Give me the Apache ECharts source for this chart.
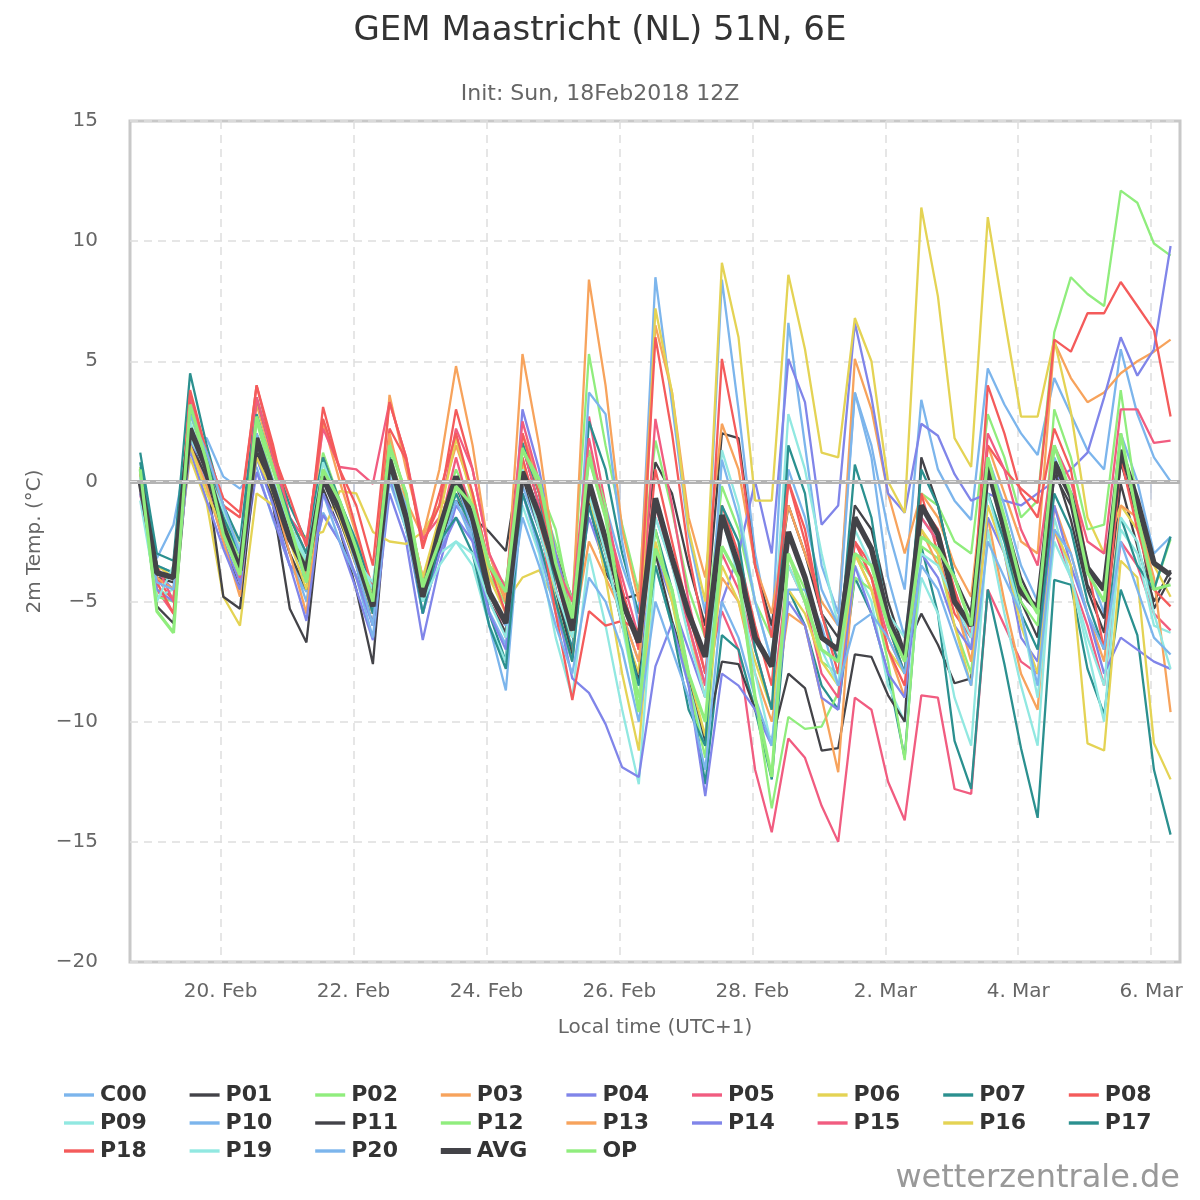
<!DOCTYPE html>
<html>
<head>
<meta charset="utf-8">
<script src="https://cdn.jsdelivr.net/npm/echarts@6/dist/echarts.min.js"></script>
<style>html,body{margin:0;padding:0;background:#fff}#chart{width:1200px;height:1200px}</style>
</head>
<body>
<div id="chart"></div>
<script>
// Forecast steps: every 6 h from 18 Feb 18Z (19:00 local), x = hours since 18 Feb 00:00 local
const startHour = 19;
const stepHours = 6;
const tickHours = [48, 96, 144, 192, 240, 288, 336, 384];
const tickLabels = ['20. Feb', '22. Feb', '24. Feb', '26. Feb', '28. Feb', '2. Mar', '4. Mar', '6. Mar'];
const yTicks = [-20, -15, -10, -5, 0, 5, 10, 15];

const C00 = [0.3,-3.2,-1.8,1.9,1.8,0.2,-0.3,0.6,-1.6,-3.5,
  -4.6,-1.3,-2.5,-3.9,-5.5,0.2,-2.0,-5.0,-2.6,-0.5,
  -2.3,-5.4,-6.8,-0.2,-2.0,-4.0,-5.5,1.0,-1.0,-3.5,
  -5.5,8.5,3.2,-2.2,-5.5,8.4,3.0,-3.0,-6.5,6.6,
  1.5,-3.5,-5.5,3.7,1.5,-2.0,-4.5,3.4,0.5,-0.8,
  -1.6,4.7,3.2,2.0,1.1,4.3,2.8,1.3,0.5,5.5,
  2.8,1.0,0.0];
const P01 = [0.0,-5.2,-5.9,1.8,0.0,-2.5,-4.5,1.5,-1.0,-5.3,
  -6.7,-0.3,-2.0,-4.5,-7.6,0.5,-2.0,-4.5,-2.5,-0.8,
  -1.5,-2.1,-2.9,1.5,-1.0,-3.0,-4.9,-0.9,-3.8,-4.9,
  -4.7,0.8,-0.5,-3.5,-6.0,2.0,1.8,-3.5,-6.0,-1.0,
  -3.0,-5.5,-6.5,-1.0,-2.0,-5.0,-7.1,-5.5,-6.8,-8.4,
  -8.2,0.3,-1.5,-4.0,-5.5,0.6,-1.6,-4.5,-6.3,-0.1,
  -2.7,-5.0,-3.7];
const P02 = [0.3,-4.5,-4.8,3.0,1.0,-1.2,-3.0,2.7,0.5,-1.8,
  -3.3,1.2,-0.8,-2.6,-4.6,1.8,-0.7,-4.2,-1.8,0.5,
  -1.0,-3.9,-5.1,1.6,-0.5,-2.6,-5.0,5.3,1.5,-1.8,
  -4.6,1.7,-1.2,-4.5,-6.5,-0.2,-2.0,-5.0,-6.5,-3.0,
  -4.5,-7.5,-8.0,-3.0,-4.0,-6.0,-7.5,-0.5,-1.0,-2.5,
  -3.0,2.8,1.0,-1.5,-0.8,6.2,8.5,7.8,7.3,12.1,
  11.6,9.9,9.4];
const P03 = [0.6,-4.3,-3.8,2.0,0.8,-1.0,-2.8,3.2,0.8,-2.0,
  -4.0,2.5,0.0,-2.2,-5.0,3.6,0.5,-2.3,-1.0,1.5,
  -0.5,-3.5,-4.8,2.0,0.0,-3.0,-5.5,8.4,4.0,-2.0,
  -5.0,6.5,3.7,-1.5,-4.0,2.4,0.5,-3.5,-5.5,-1.0,
  -3.0,-5.0,-6.0,5.1,3.0,-0.5,-3.0,-0.5,-1.5,-3.5,
  -4.8,1.5,-0.5,-2.5,-3.0,5.8,4.3,3.3,3.7,4.5,
  5.0,5.4,5.9];
const P04 = [-0.5,-3.8,-4.5,1.8,-0.2,-2.5,-4.2,0.4,-1.5,-3.5,
  -4.0,-1.4,-2.5,-4.5,-6.6,-0.5,-2.5,-6.6,-3.5,-1.0,
  -2.0,-4.5,-6.0,3.0,0.5,-3.0,-5.5,-1.5,-3.5,-5.5,
  -7.5,-3.0,-5.0,-7.0,-9.0,-5.0,-3.0,0.0,-3.0,5.1,
  3.3,-1.8,-1.0,6.6,3.5,-0.5,-1.3,2.4,1.9,0.3,
  -0.8,-0.5,-0.8,-1.0,-0.5,0.0,0.5,1.2,3.5,6.0,
  4.4,5.5,9.8];
const P05 = [-0.5,-4.5,-5.5,3.0,0.5,-1.5,-3.5,2.0,-0.5,-2.5,
  -3.5,1.0,-1.0,-3.0,-5.5,1.0,-1.0,-4.0,-2.0,1.0,
  -1.5,-4.5,-6.5,1.5,-1.0,-4.0,-6.5,2.7,-1.0,-4.5,
  -7.0,2.6,-1.0,-5.0,-8.0,-5.4,-7.0,-12.0,-14.6,-10.7,
  -11.5,-13.5,-15.0,-9.0,-9.5,-12.5,-14.1,-8.9,-9.0,-12.8,
  -13.0,-4.5,-6.0,-7.5,-8.0,-2.0,-4.0,-6.0,-8.5,-2.5,
  -3.5,-5.5,-6.2];
const P06 = [0.5,-4.0,-4.5,1.0,-0.9,-4.8,-6.0,-0.5,-1.0,-2.1,
  -2.3,-2.1,-0.4,-0.5,-2.1,-2.5,-2.6,-2.1,-1.0,-0.5,
  -2.0,-3.5,-5.0,-4.0,-3.7,-5.0,-6.5,-1.0,-3.0,-6.0,
  -8.0,7.2,3.7,-2.0,-5.0,9.1,6.0,-0.8,-0.8,8.6,
  5.5,1.2,1.0,6.8,5.0,0.0,-1.3,11.4,7.7,1.8,
  0.6,11.0,6.8,2.7,2.7,5.9,2.9,-1.5,-3.0,-1.0,
  -2.0,-3.5,-4.8];
const P07 = [1.2,-3.0,-3.3,4.5,1.5,-1.0,-2.5,3.5,1.0,-1.0,
  -2.5,1.0,-0.8,-2.5,-4.5,1.5,-0.5,-4.5,-2.5,-0.5,
  -2.0,-5.5,-7.5,1.6,-0.5,-4.5,-7.0,2.5,0.5,-3.0,
  -5.5,-2.0,-4.5,-8.0,-12.6,-6.4,-7.0,-9.5,-12.4,-4.5,
  -6.0,-8.5,-9.5,-4.0,-5.5,-8.0,-11.5,-2.7,-5.5,-10.8,
  -12.8,-4.5,-7.6,-11.1,-14.0,-4.1,-4.3,-7.8,-9.7,-4.5,
  -6.4,-12.0,-14.7];
const P08 = [0.3,-4.0,-5.0,3.5,1.0,-1.0,-1.5,4.0,1.5,-1.5,
  -3.0,3.1,0.5,-2.0,-4.5,2.2,0.9,-2.6,-1.0,3.0,
  0.5,-3.0,-5.0,2.0,-0.5,-3.5,-5.5,1.0,-1.5,-4.5,
  -7.0,0.5,-2.5,-5.5,-8.0,-1.0,-3.0,-6.0,-8.5,0.0,
  -2.5,-5.5,-7.5,-2.5,-3.5,-6.0,-8.0,-0.5,-3.0,-5.5,
  -6.5,1.5,0.5,-0.3,-0.9,5.9,5.4,7.0,7.0,8.3,
  7.3,6.3,2.7];
const P09 = [-0.8,-4.8,-4.5,1.8,0.5,-1.8,-3.5,1.0,-0.5,-1.8,
  -3.2,0.0,-1.5,-3.0,-4.5,0.5,-1.5,-5.0,-3.0,-2.5,
  -3.5,-6.0,-7.5,-1.0,-3.0,-6.5,-9.0,-3.0,-6.0,-9.5,
  -12.6,-3.5,-6.0,-8.5,-11.0,1.3,-1.0,-5.0,-7.5,2.8,
  0.5,-3.0,-6.0,-3.5,-5.0,-8.5,-10.0,-4.0,-5.5,-9.0,
  -11.0,-2.0,-5.5,-8.5,-11.0,-1.5,-4.0,-7.0,-10.0,-2.0,
  -3.0,-6.0,-6.3];
const P10 = [-0.5,-3.5,-3.8,2.0,0.8,-1.5,-4.0,1.0,-1.0,-3.0,
  -5.0,-0.5,-2.5,-4.0,-6.5,0.0,-2.0,-5.5,-3.0,-0.8,
  -2.5,-6.0,-8.7,-0.5,-2.8,-5.5,-7.5,3.7,2.8,-2.5,
  -6.0,-1.5,-3.5,-6.0,-8.5,0.9,-1.5,-5.0,-7.5,0.5,
  -1.5,-4.5,-6.0,3.7,1.0,-4.0,-6.5,-1.5,-2.5,-5.0,
  -7.0,1.0,-1.0,-3.5,-5.0,1.0,-0.5,-3.5,-5.5,2.0,
  0.0,-3.0,-2.3];
const P11 = [0.5,-4.0,-4.2,1.5,0.2,-4.8,-5.3,1.2,-0.8,-3.0,
  -4.5,0.0,-1.6,-3.5,-6.0,0.5,-1.8,-5.0,-2.8,-0.2,
  -1.8,-5.0,-6.3,0.2,-2.0,-4.5,-7.3,-0.9,-3.0,-6.0,
  -8.3,-3.0,-5.8,-8.0,-10.8,-7.5,-7.6,-9.5,-10.8,-8.0,
  -8.6,-11.2,-11.1,-7.2,-7.3,-8.9,-10.0,1.0,-1.0,-4.0,
  -5.5,0.9,-1.8,-5.0,-6.5,0.3,-1.0,-4.3,-5.7,0.8,
  -1.5,-5.3,-4.0];
const P12 = [0.6,-4.8,-5.0,2.8,0.8,-1.5,-3.3,2.5,0.0,-2.0,
  -3.5,0.8,-1.0,-2.8,-5.0,1.2,-1.2,-4.5,-2.2,-0.3,
  -1.0,-3.5,-4.3,1.4,-0.2,-2.0,-5.5,1.3,-1.0,-5.5,
  -9.0,-2.0,-5.0,-8.5,-11.5,-2.7,-4.0,-9.0,-13.6,-9.8,
  -10.3,-10.2,-8.8,-4.0,-4.5,-7.5,-11.6,-2.7,-3.2,-6.0,
  -8.0,-0.5,-2.5,-5.0,-6.0,3.0,1.0,-2.0,-1.8,3.8,
  -1.0,-4.5,-2.4];
const P13 = [0.3,-4.0,-4.5,1.5,-0.2,-2.5,-4.8,2.0,-0.5,-3.0,
  -5.5,1.0,-1.0,-3.0,-5.5,2.0,-0.8,-2.3,0.5,4.8,
  1.5,-3.0,-5.0,5.3,1.5,-3.5,-6.5,-2.5,-4.0,-5.5,
  -7.5,-1.0,-3.0,-6.0,-9.0,-4.0,-5.0,-8.0,-10.0,-5.5,
  -6.0,-9.0,-12.1,-3.0,-4.5,-7.0,-9.0,-2.0,-3.5,-5.0,
  -7.5,-1.5,-5.0,-8.0,-9.5,-1.0,-3.0,-5.5,-7.5,-1.0,
  -1.5,-4.0,-9.6];
const P14 = [-0.3,-4.5,-5.0,1.3,-0.8,-2.8,-4.5,1.0,-1.0,-3.5,
  -5.8,-0.5,-2.0,-4.0,-6.0,0.2,-1.8,-5.5,-3.0,-1.5,
  -2.5,-5.5,-7.0,-0.5,-2.5,-5.0,-8.2,-8.8,-10.1,-11.9,
  -12.3,-7.7,-5.9,-8.5,-13.1,-8.0,-8.5,-9.5,-11.0,-5.0,
  -6.0,-9.0,-9.5,-3.5,-5.5,-8.0,-9.0,-3.0,-4.0,-6.0,
  -7.0,-1.5,-3.0,-6.5,-7.5,-1.0,-3.5,-5.5,-8.0,-6.5,
  -7.0,-7.5,-7.8];
const P15 = [-0.2,-3.5,-5.0,3.6,1.0,-2.0,-4.0,3.5,1.0,-1.5,
  -2.5,2.2,0.6,0.5,-0.1,3.3,1.0,-2.4,-1.5,2.2,
  0.5,-3.0,-4.5,2.5,0.0,-3.5,-5.0,1.8,-1.5,-4.0,
  -6.5,-1.0,-3.5,-6.0,-8.5,-3.0,-4.5,-7.0,-9.5,-3.5,
  -5.0,-8.0,-9.0,-2.5,-4.0,-6.5,-8.0,-1.5,-2.5,-4.5,
  -6.5,2.0,0.5,-2.0,-3.5,1.5,0.0,-2.5,-3.0,3.0,
  3.0,1.6,1.7];
const P16 = [-0.2,-3.5,-4.0,1.5,-0.5,-2.0,-3.5,1.0,-0.5,-2.5,
  -4.5,0.5,-1.5,-3.5,-5.5,1.0,-1.0,-4.0,-1.5,1.8,
  -0.8,-4.0,-5.5,0.8,-1.5,-5.0,-7.5,-0.5,-4.0,-8.0,
  -11.2,-2.5,-5.0,-8.0,-10.6,-3.5,-5.0,-7.5,-9.5,-4.5,
  -5.5,-7.5,-8.5,-3.0,-4.5,-7.0,-8.0,-2.0,-3.0,-6.0,
  -8.5,-1.0,-3.0,-6.0,-8.0,-2.0,-3.5,-10.9,-11.2,-3.3,
  -4.0,-10.9,-12.4];
const P17 = [0.8,-3.5,-3.8,3.0,1.0,-1.5,-3.0,2.8,0.5,-1.5,
  -3.0,1.0,-1.0,-3.2,-5.5,1.0,-1.5,-5.5,-2.5,-1.5,
  -3.0,-6.0,-7.8,-0.5,-2.5,-5.0,-7.5,-1.0,-3.5,-5.5,
  -8.5,-3.5,-6.0,-9.5,-11.0,-1.0,-2.5,-7.0,-9.5,1.5,
  -0.5,-5.5,-7.5,0.7,-1.5,-6.0,-8.0,0.5,-1.0,-4.0,
  -6.0,-0.5,-2.5,-5.5,-7.0,-0.5,-2.0,-5.0,-7.0,-1.5,
  -3.5,-4.5,-2.3];
const P18 = [-0.3,-4.2,-5.5,3.8,1.2,-0.7,-1.3,4.0,1.2,-0.7,
  -2.7,2.6,0.5,-1.0,-3.5,3.3,1.0,-2.8,-0.5,2.0,
  -0.5,-3.5,-5.5,1.0,-1.5,-5.5,-9.1,-5.4,-6.0,-5.8,
  -6.2,6.0,2.0,-3.0,-6.5,5.1,1.5,-3.5,-6.5,0.0,
  -2.0,-5.5,-8.0,-2.5,-4.0,-7.0,-8.5,-1.0,-2.0,-4.5,
  -6.5,4.0,2.0,-0.5,-1.5,2.2,0.5,-3.5,-7.0,1.0,
  -2.0,-4.5,-5.2];
const P19 = [0.2,-5.0,-3.5,2.5,0.5,-1.2,-2.8,1.5,0.0,-2.0,
  -3.3,0.8,-1.0,-3.3,-4.2,0.5,-2.0,-5.0,-3.5,-2.5,
  -3.0,-5.0,-6.5,0.5,-2.0,-4.5,-6.5,-0.5,-3.0,-6.0,
  -9.5,-1.5,-3.5,-6.5,-9.0,-1.5,-4.0,-8.0,-11.0,-3.5,
  -5.0,-7.0,-8.5,-2.0,-3.5,-5.5,-6.5,-3.0,-3.5,-5.0,
  -6.5,-0.5,-3.0,-5.5,-9.0,-2.5,-4.0,-6.5,-8.5,-1.5,
  -2.5,-5.5,-7.8];
const P20 = [0.0,-4.2,-4.5,2.8,1.2,-1.0,-3.0,2.0,0.0,-2.2,
  -4.2,0.5,-1.0,-3.5,-6.0,0.8,-1.0,-4.5,-2.0,0.0,
  -2.0,-4.5,-6.0,-1.5,-3.5,-6.0,-8.0,-4.0,-5.0,-7.0,
  -10.0,-5.0,-7.0,-9.0,-12.0,-5.0,-6.5,-9.0,-11.0,-4.5,
  -4.5,-6.0,-8.5,-6.0,-5.5,-6.5,-8.0,-3.5,-4.5,-6.5,
  -8.5,-2.5,-4.0,-5.5,-8.5,-2.0,-3.0,-5.5,-7.0,-2.5,
  -4.5,-6.5,-7.2];
const AVG = [0.0,-3.8,-4.0,2.2,0.5,-1.9,-3.7,1.8,-0.3,-2.4,
  -3.7,0.2,-1.2,-3.1,-5.2,0.9,-1.5,-4.8,-2.0,0.2,
  -1.5,-4.6,-5.9,0.4,-1.4,-3.7,-6.2,0.0,-2.4,-5.0,
  -6.7,-0.7,-3.2,-5.5,-7.3,-1.4,-3.5,-6.5,-7.7,-2.1,
  -4.0,-6.5,-7.0,-1.5,-2.8,-5.7,-7.3,-1.0,-2.2,-5.0,
  -6.0,0.6,-2.0,-4.6,-5.3,0.8,-0.6,-3.6,-4.5,1.3,
  -0.8,-3.4,-3.9];
const OP = [0.5,-5.4,-6.3,3.2,0.8,-2.2,-3.9,2.7,0.5,-1.8,
  -4.2,0.5,-0.8,-2.8,-5.0,1.5,-0.5,-4.4,-2.5,-0.2,
  -1.0,-3.5,-4.6,1.3,0.1,-3.4,-5.7,1.0,-1.5,-5.5,
  -9.6,-2.8,-4.5,-8.0,-10.0,-2.7,-4.0,-9.0,-12.3,-3.0,
  -5.0,-7.0,-7.5,-3.0,-3.5,-6.0,-7.5,-2.3,-2.8,-4.0,
  -6.0,1.0,-1.5,-4.3,-5.5,1.5,-0.5,-3.8,-5.0,2.0,
  -1.5,-4.5,-4.3];

const seriesNames = ['C00','P01','P02','P03','P04','P05','P06','P07','P08','P09',
  'P10','P11','P12','P13','P14','P15','P16','P17','P18','P19','P20','AVG','OP'];
const seriesValues = [C00,P01,P02,P03,P04,P05,P06,P07,P08,P09,
  P10,P11,P12,P13,P14,P15,P16,P17,P18,P19,P20,AVG,OP];
const palette = ['#7cb5ec','#434348','#90ed7d','#f7a35c','#8085e9','#f15c80','#e4d354','#2b908f','#f45b5b','#91e8e1'];

const FONT = 'DejaVu Sans';
const chart = echarts.init(document.getElementById('chart'), null, {renderer: 'canvas'});

const ICON_THIN = 'path://M0,0L30,0L30,3.4L0,3.4Z';
const ICON_THICK = 'path://M0,0L30,0L30,6L0,6Z';

const series = seriesNames.map((name, k) => {
  const color = name === 'AVG' ? '#434348' : (name === 'OP' ? '#90ed7d' : palette[k % 10]);
  const width = name === 'AVG' ? 5.5 : (name === 'OP' ? 3.2 : 2.3);
  return {
    name: name,
    type: 'line',
    symbol: 'none',
    silent: true,
    animation: false,
    z: 3,
    data: seriesValues[k].map((v, i) => [startHour + i * stepHours, v]),
    lineStyle: {color: color, width: width},
    itemStyle: {color: color}
  };
});
series.unshift({
  name: 'zero',
  type: 'line',
  data: [],
  z: 2,
  silent: true,
  animation: false,
  markLine: {
    silent: true, symbol: 'none', animation: false, label: {show: false},
    data: [
      {yAxis: 0, lineStyle: {color: '#b4b4b4', width: 4, type: 'solid'}},
      {yAxis: 0, lineStyle: {color: '#e6e6e6', width: 1.2, type: [7, 6]}}
    ]
  }
});

const legends = [];
for (let c = 0; c < 9; c++) {
  legends.push({
    orient: 'vertical',
    left: 59 + c * 125.6,
    top: 1079,
    itemWidth: 30,
    itemHeight: 14,
    itemGap: 6,
    symbolKeepAspect: true,
    selectedMode: false,
    data: seriesNames.filter((_, k) => k % 9 === c).map(n => ({name: n, icon: n === 'AVG' ? ICON_THICK : ICON_THIN})),
    textStyle: {fontFamily: FONT, fontSize: 22, fontWeight: 'bold', color: '#333', lineHeight: 21, padding: [0, 0, 0, 1]}
  });
}

chart.setOption({
  animation: false,
  backgroundColor: '#ffffff',
  textStyle: {fontFamily: FONT},
  title: [
    {text: 'GEM Maastricht (NL) 51N, 6E', left: 'center', top: 9,
     textStyle: {fontFamily: FONT, fontSize: 34, fontWeight: 'normal', color: '#333'}},
    {text: 'Init: Sun, 18Feb2018 12Z', left: 'center', top: 78,
     textStyle: {fontFamily: FONT, fontSize: 22, fontWeight: 'normal', color: '#666'}}
  ],
  legend: legends,
  grid: {left: 130, right: 20, top: 121, bottom: 238, show: true, borderColor: '#c8c8c8', borderWidth: 3, backgroundColor: 'transparent'},
  xAxis: {
    type: 'value', min: 15.3, max: 394.4,
    name: 'Local time (UTC+1)', nameLocation: 'middle', nameGap: 56,
    nameTextStyle: {fontFamily: FONT, fontSize: 20, color: '#666'},
    axisLine: {show: false},
    axisTick: {show: true, length: 18, customValues: tickHours, lineStyle: {color: '#c0c8d8', width: 1.5}},
    axisLabel: {customValues: tickHours, fontSize: 20, color: '#666', margin: 20, fontFamily: FONT,
      formatter: v => tickLabels[tickHours.indexOf(v)] || ''},
    splitLine: {show: true, lineStyle: {color: '#dedede', width: 1.5, type: [8, 6]}}
  },
  yAxis: {
    type: 'value', min: -20, max: 15, interval: 5,
    name: '2m Temp. (°C)', nameLocation: 'middle', nameRotate: 90, nameGap: 76,
    nameTextStyle: {fontFamily: FONT, fontSize: 20, color: '#666'},
    axisLine: {show: false}, axisTick: {show: false},
    axisLabel: {fontSize: 20, color: '#666', margin: 32, fontFamily: FONT,
      formatter: v => (yTicks.indexOf(v) >= 0 ? String(v).replace('-', '\u2212') : '')},
    splitLine: {show: true, lineStyle: {color: '#dedede', width: 1.5, type: [8, 6]}}
  },
  graphic: [
    {type: 'text', right: 20, top: 1163, silent: true,
     style: {text: 'wetterzentrale.de', fontSize: 32, fill: '#999999', fontFamily: FONT}}
  ],
  series: series
});
</script>
</body>
</html>
